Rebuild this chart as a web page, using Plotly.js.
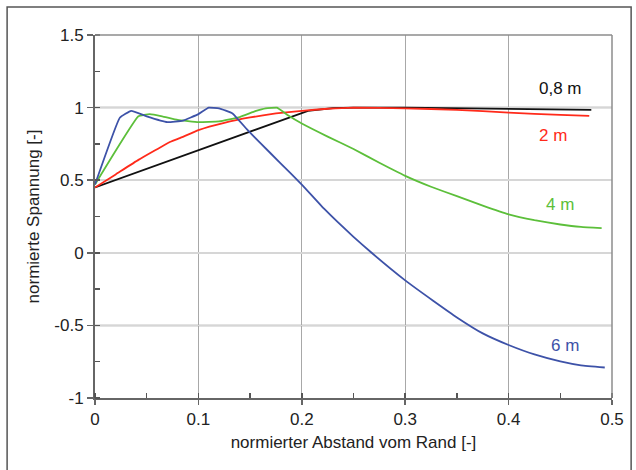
<!DOCTYPE html>
<html><head><meta charset="utf-8">
<script src="https://cdn.plot.ly/plotly-3.0.1.min.js"></script>
<style>body{margin:0;background:#fff}#c{width:636px;height:470px}</style>
</head><body><div id="c"></div>
<script>
const x08 = [0, 0.05, 0.1, 0.15, 0.206, 0.23, 0.25, 0.3, 0.35, 0.4, 0.45, 0.48];
const y08 = [0.45, 0.578, 0.707, 0.835, 0.978, 0.996, 1.0, 1.0, 0.995, 0.99, 0.985, 0.985];

const x2 = [0, 0.02, 0.042, 0.073, 0.082, 0.1, 0.125, 0.15, 0.175, 0.2, 0.225, 0.25, 0.3, 0.35, 0.4, 0.45, 0.478];
const y2 = [0.45, 0.54, 0.64, 0.765, 0.79, 0.845, 0.895, 0.932, 0.96, 0.978, 0.992, 1.0, 0.995, 0.985, 0.965, 0.95, 0.943];

const x4 = [0, 0.042, 0.053, 0.065, 0.08, 0.1, 0.12, 0.14, 0.155, 0.165, 0.176, 0.187, 0.2, 0.225, 0.25, 0.275, 0.3, 0.325, 0.35, 0.375, 0.4, 0.425, 0.45, 0.47, 0.49];
const y4 = [0.47, 0.94, 0.955, 0.94, 0.915, 0.9, 0.905, 0.935, 0.975, 0.995, 1.0, 0.945, 0.89, 0.80, 0.715, 0.62, 0.53, 0.455, 0.39, 0.325, 0.265, 0.225, 0.195, 0.178, 0.17];

const x6 = [0, 0.024, 0.035, 0.05, 0.07, 0.085, 0.1, 0.11, 0.12, 0.133, 0.147, 0.16, 0.179, 0.2, 0.222, 0.25, 0.2675, 0.3, 0.327, 0.35, 0.375, 0.4, 0.425, 0.45, 0.47, 0.493];
const y6 = [0.47, 0.93, 0.978, 0.94, 0.9, 0.91, 0.955, 1.0, 0.995, 0.96, 0.85, 0.755, 0.62, 0.47, 0.30, 0.11, 0.0, -0.19, -0.33, -0.445, -0.555, -0.635, -0.70, -0.748, -0.775, -0.79];

const seriesNames = ["0,8 m", "2 m", "4 m", "6 m"];
const colors = ["#111111", "#ff2a1a", "#5cbf3a", "#3d52a8"];

const xs = [x08, x2, x4, x6], ys = [y08, y2, y4, y6];
const traces = xs.map((x, i) => ({
  x: x, y: ys[i], type: "scatter", mode: "lines", name: seriesNames[i],
  line: {color: colors[i], width: 1.8, shape: "spline", smoothing: 0.3}, hoverinfo: "skip"
}));
traces[0].line.shape = "linear";

const labelPos = [[0.45, 1.13], [0.443, 0.805], [0.45, 0.33], [0.455, -0.64]];
const FONT = "Liberation Sans, Arial, sans-serif";
const annotations = seriesNames.map((t, i) => ({
  x: labelPos[i][0], y: labelPos[i][1], xref: "x", yref: "y", text: t, showarrow: false,
  font: {family: FONT, size: 17, color: colors[i]}
}));

const layout = {
  width: 636, height: 470,
  margin: {l: 95, r: 24, t: 35, b: 72},
  paper_bgcolor: "#fff", plot_bgcolor: "#fff",
  showlegend: false,
  font: {family: FONT, size: 17, color: "#222"},
  xaxis: {
    range: [0, 0.5], tickvals: [0, 0.1, 0.2, 0.3, 0.4, 0.5], ticktext: ["0", "0.1", "0.2", "0.3", "0.4", "0.5"],
    showgrid: true, gridcolor: "#a8a8a8", gridwidth: 1.2,
    showline: true, linecolor: "#666", linewidth: 2, mirror: false,
    ticks: "outside", ticklen: 5, tickcolor: "#666", tickwidth: 1.5,
    minor: {dtick: 0.05, ticks: "inside", ticklen: 5, tickcolor: "#555", tickwidth: 1.5, showgrid: false},
    zeroline: false,
    title: {text: "normierter Abstand vom Rand [-]", font: {size: 17, color: "#222"}, standoff: 8},
    tickfont: {size: 17, color: "#222"}
  },
  yaxis: {
    range: [-1, 1.5], tickvals: [-1, -0.5, 0, 0.5, 1, 1.5], ticktext: ["-1", "-0.5", "0", "0.5", "1", "1.5"],
    showgrid: true, gridcolor: "#d6d6d6", gridwidth: 1.5,
    showline: true, linecolor: "#666", linewidth: 2,
    ticks: "outside", ticklen: 6, tickcolor: "#666", tickwidth: 1.5,
    minor: {dtick: 0.25, ticks: "inside", ticklen: 5, tickcolor: "#555", tickwidth: 1.5, showgrid: false},
    zeroline: false,
    title: {text: "normierte Spannung [-]", font: {size: 17, color: "#222"}, standoff: 10},
    tickfont: {size: 17, color: "#222"}
  },
  shapes: [
    {type: "line", xref: "paper", yref: "y", x0: 0, x1: 1, y0: 1, y1: 1, line: {color: "#8c8c8c", width: 1.5}, layer: "below"},
    {type: "line", xref: "paper", yref: "y", x0: 0, x1: 1, y0: -0.5, y1: -0.5, line: {color: "#8c8c8c", width: 1.5}, layer: "below"},
    {type: "line", xref: "paper", yref: "paper", x0: 0, x1: 1, y0: 1, y1: 1, line: {color: "#8c8c8c", width: 1.5}},
    {type: "line", xref: "paper", yref: "paper", x0: 1, x1: 1, y0: 0, y1: 1, line: {color: "#8c8c8c", width: 1.5}},
    {type: "rect", xref: "paper", yref: "paper", x0: -0.170, x1: 1.037, y0: -0.3, y1: 1.077, line: {color: "#555", width: 1.5}, fillcolor: "rgba(0,0,0,0)"}
  ],
  annotations: annotations
};

Plotly.newPlot("c", traces, layout, {staticPlot: true, displayModeBar: false});
</script>
</body></html>
